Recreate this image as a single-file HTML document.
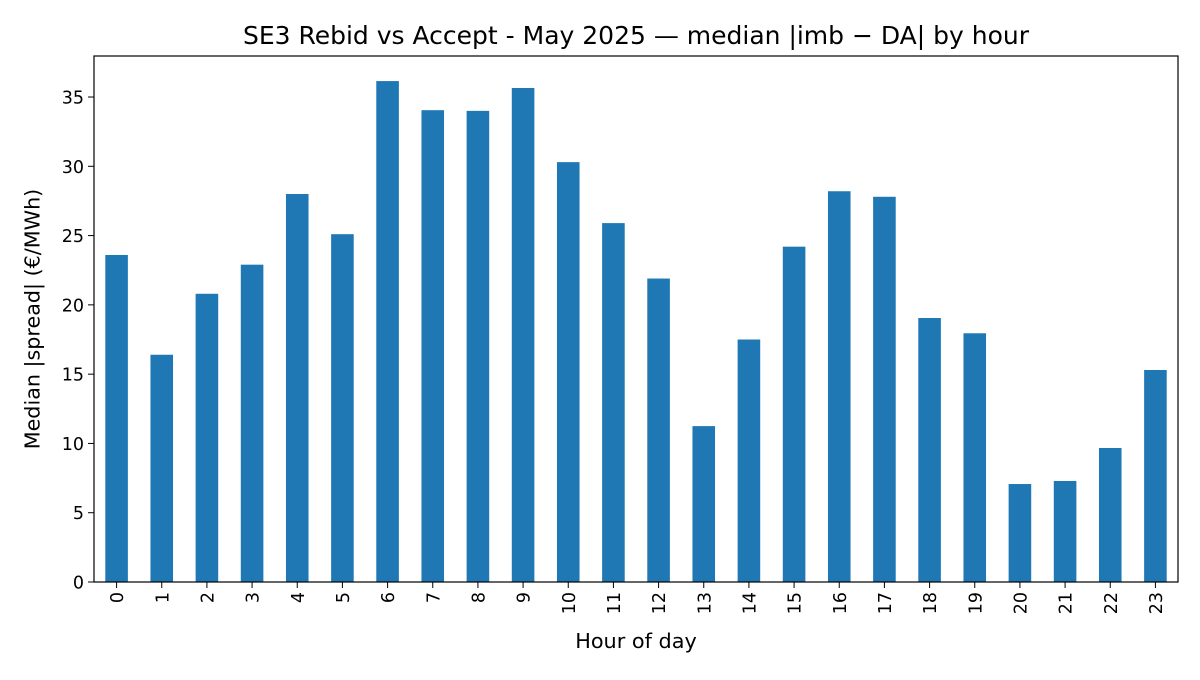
<!DOCTYPE html>
<html><head><meta charset="utf-8"><style>
body{margin:0;background:#fff;}
svg text{font-family:"DejaVu Sans","Liberation Sans",sans-serif;fill:#000;}
</style></head><body>
<svg id="chart" width="1200" height="675" xmlns="http://www.w3.org/2000/svg">
<rect width="1200" height="675" fill="#fff"/>
<text x="636" y="44" font-size="25" text-anchor="middle">SE3 Rebid vs Accept - May 2025 — median |imb − DA| by hour</text>
<text x="636" y="648" font-size="20.8" text-anchor="middle">Hour of day</text>
<text transform="translate(39.5,319) rotate(-90)" font-size="20.7" text-anchor="middle">Median |spread| (€/MWh)</text>
<g id="bars"></g><g id="xt"></g><g id="yt"></g>
<rect x="94" y="56" width="1084" height="526" fill="none" stroke="#000" stroke-width="1.2"/>
</svg>
<script>
const categories=["0","1","2","3","4","5","6","7","8","9","10","11","12","13","14","15","16","17","18","19","20","21","22","23"];
const values=[23.6,16.4,20.8,22.9,28.0,25.1,36.15,34.05,34.0,35.65,30.3,25.9,21.9,11.25,17.5,24.2,28.2,27.8,19.05,17.95,7.07,7.29,9.67,15.3];
const yTicks=[0,5,10,15,20,25,30,35];
const L=94,R=1178,T=56,B=582,yMax=37.96;
const n=categories.length;
const xs=i=>L+(i+0.5)*(R-L)/n;
const ys=v=>B-v/yMax*(B-T);
const NS="http://www.w3.org/2000/svg";
const bw=0.5*(R-L)/n;
const gb=document.getElementById('bars'),gx=document.getElementById('xt'),gy=document.getElementById('yt');
values.forEach((v,i)=>{
 const r=document.createElementNS(NS,'rect');
 r.setAttribute('x',xs(i)-bw/2);r.setAttribute('y',ys(v));r.setAttribute('width',bw);r.setAttribute('height',B-ys(v));r.setAttribute('fill','#1f77b4');
 
 
 gb.appendChild(r);
});
categories.forEach((c,i)=>{
 const l=document.createElementNS(NS,'line');
 l.setAttribute('x1',xs(i));l.setAttribute('x2',xs(i));l.setAttribute('y1',B);l.setAttribute('y2',B+6);l.setAttribute('stroke','#000');
 gx.appendChild(l);
 const t=document.createElementNS(NS,'text');
 t.setAttribute('transform',`translate(${xs(i)+6.5},${B+10}) rotate(-90)`);
 t.setAttribute('text-anchor','end');t.setAttribute('font-size','17.5');t.textContent=c;
 
 
 gx.appendChild(t);
});
yTicks.forEach(v=>{
 const l=document.createElementNS(NS,'line');
 l.setAttribute('x1',L-6);l.setAttribute('x2',L);l.setAttribute('y1',ys(v));l.setAttribute('y2',ys(v));l.setAttribute('stroke','#000');
 gy.appendChild(l);
 const t=document.createElementNS(NS,'text');
 t.setAttribute('x',L-10);t.setAttribute('y',ys(v)+6.5);t.setAttribute('text-anchor','end');t.setAttribute('font-size','17.5');t.textContent=v;
 
 
 gy.appendChild(t);
});
</script>
</body></html>
